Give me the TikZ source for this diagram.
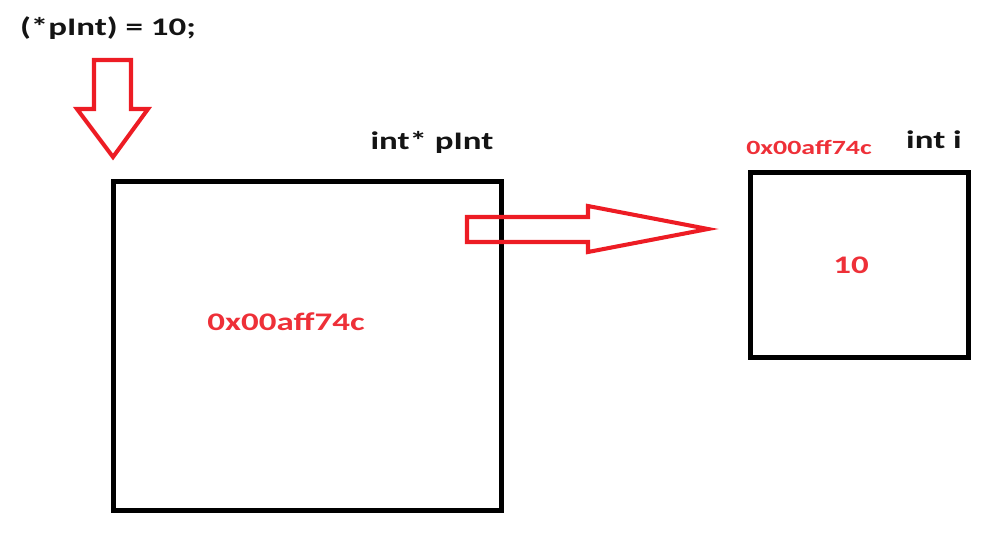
\documentclass[tikz,border=0pt]{standalone}
\usepackage{fontspec}
\setmainfont{Carlito}
\usetikzlibrary{positioning,calc}
\definecolor{ptrred}{RGB}{237,28,36}
\definecolor{txtred}{RGB}{238,48,56}
\definecolor{inkblack}{RGB}{20,20,20}
\tikzset{
  membox/.style={
    rectangle, draw=black, line width=2.8pt,
    inner sep=0pt
  },
  codelabel/.style={
    font=\fontsize{14.4}{16}\selectfont\bfseries,
    text=inkblack, inner sep=0pt,
    transform shape, xscale=1.38
  },
  addrlabel/.style={
    font=\fontsize{14.4}{16}\selectfont\bfseries,
    text=txtred, inner sep=0pt,
    transform shape, xscale=1.38
  },
  blockarrow/.style={
    draw=ptrred, line width=2.3pt, line join=miter
  },
}
\begin{document}
\begin{tikzpicture}[x=0.02cm,y=-0.02cm]
\useasboundingbox (0,0) rectangle (1000,555);

%% ── Memory cells ─────────────────────────────────────────────────────────
\node[membox, minimum width=7.76cm, minimum height=6.58cm,
      anchor=north west] (pintbox) at (111,179) {};
\node[membox, minimum width=4.36cm, minimum height=3.7cm,
      anchor=north west] (ibox) at (748,170) {};

%% ── Labels ───────────────────────────────────────────────────────────────
\node[codelabel] (deref) at (108,28) {(*pInt) = 10;};
\node[codelabel] (pintname) at (432,142) {int* pInt};
\node[codelabel] (iname) at (934,140) {int i};
\node[addrlabel, font=\fontsize{11.5}{13}\selectfont\bfseries]
  (iaddr) at (809,147) {0x00aff74c};
\node[addrlabel] (pintval) at (286,322) {0x00aff74c};
\node[addrlabel] (ival) at (851,265) {10};

%% ── Block arrows ─────────────────────────────────────────────────────────
% dereference, pointing down onto pInt
\draw[blockarrow] (94,60) -- (131,60) -- (131,109) -- (148,109)
  -- (113,157) -- (77,109) -- (94,109) -- cycle;
% pInt holds the address of i
\draw[blockarrow] (467,217) -- (588,217) -- (588,206) -- (708,229)
  -- (588,252) -- (588,242) -- (467,242) -- cycle;

\end{tikzpicture}
\end{document}
